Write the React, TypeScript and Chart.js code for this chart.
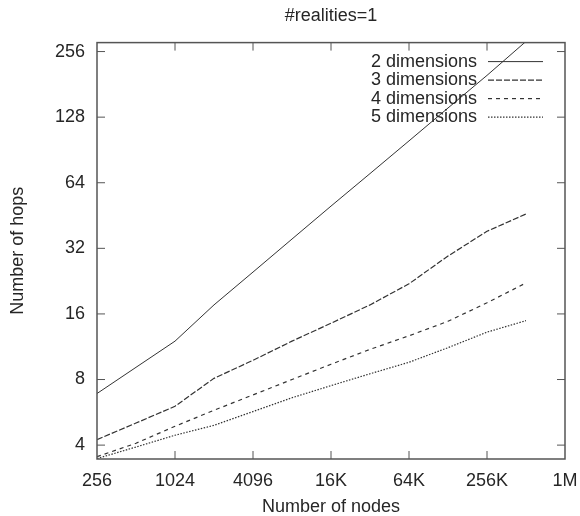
import React, { useEffect, useRef } from 'react';
import { Chart, registerables } from 'chart.js';

Chart.register(...registerables);

// ---- data ----
const nodes = [256, 512, 1024, 2048, 4096, 8192, 16384, 32768, 65536, 131072, 262144, 524288];
const hops2 = [6.9, 9.1, 12.0, 17.6, 24.9, 35.3, 50.0, 70.5, 99.6, 141, 199, 285];
const hops3 = [4.24, 5.05, 6.03, 8.1, 9.8, 12.0, 14.5, 17.6, 22.0, 29.5, 38.3, 46];
const hops4 = [3.54, 4.08, 4.88, 5.78, 6.8, 8.0, 9.4, 11.0, 12.7, 14.8, 18.0, 22.2];
const hops5 = [3.47, 3.92, 4.44, 4.93, 5.7, 6.6, 7.5, 8.5, 9.6, 11.2, 13.2, 14.9];
const seriesLabels = ['2 dimensions', '3 dimensions', '4 dimensions', '5 dimensions'];
const xTickValues = [256, 1024, 4096, 16384, 65536, 262144, 1048576];
const xTickLabels = ['256', '1024', '4096', '16K', '64K', '256K', '1M'];
const yTickValues = [4, 8, 16, 32, 64, 128, 256];
const yTickLabels = ['4', '8', '16', '32', '64', '128', '256'];
const chartTitle = '#realities=1';
const xTitle = 'Number of nodes';
const yTitle = 'Number of hops';

const TEXT = '#262626';
const LINE = '#333333';
const FONT = '"Liberation Sans", Arial, Helvetica, sans-serif';

const dashes: number[][] = [[], [6, 2], [4, 4], [1.5, 1.5]];
const seriesValues = [hops2, hops3, hops4, hops5];

const framePlugin = {
  id: 'gnuFrame',
  afterDatasetsDraw(chart: any) {
    const { ctx, chartArea: a, scales } = chart;
    ctx.save();
    ctx.strokeStyle = '#555';
    ctx.lineWidth = 1;
    const L = 8;
    const seg = (x1: number, y1: number, x2: number, y2: number) => {
      ctx.beginPath();
      ctx.moveTo(x1, y1);
      ctx.lineTo(x2, y2);
      ctx.stroke();
    };
    scales.x.ticks.forEach((t: any) => {
      const px = scales.x.getPixelForValue(t.value);
      if (px <= a.left + 1 || px >= a.right - 1) return;
      seg(px, a.bottom, px, a.bottom - L);
      seg(px, a.top, px, a.top + L);
    });
    scales.y.ticks.forEach((t: any) => {
      const py = scales.y.getPixelForValue(t.value);
      if (py <= a.top + 1 || py >= a.bottom - 1) return;
      seg(a.left, py, a.left + L, py);
      seg(a.right, py, a.right - L, py);
    });
    ctx.lineWidth = 1.5;
    ctx.strokeStyle = '#555';
    ctx.strokeRect(a.left, a.top, a.right - a.left, a.bottom - a.top);

    ctx.font = `18px ${FONT}`;
    ctx.textAlign = 'right';
    ctx.textBaseline = 'middle';
    chart.data.datasets.forEach((ds: any, i: number) => {
      const y = a.top + 19 + i * 18.5;
      ctx.fillStyle = TEXT;
      ctx.fillText(ds.label, a.right - 88, y);
      ctx.strokeStyle = ds.borderColor;
      ctx.lineWidth = ds.borderWidth;
      ctx.setLineDash(ds.borderDash || []);
      seg(a.right - 77, y, a.right - 22, y);
      ctx.setLineDash([]);
    });
    ctx.restore();
  },
};

export default function App() {
  const ref = useRef<HTMLCanvasElement | null>(null);

  useEffect(() => {
    if (!ref.current) return;
    const chart = new Chart(ref.current, {
      type: 'line',
      data: {
        datasets: seriesLabels.map((label, k) => ({
          label,
          data: nodes.map((x, i) => ({ x, y: seriesValues[k][i] })),
          borderColor: LINE,
          borderWidth: k === 0 ? 1 : 1.2,
          borderDash: dashes[k],
          pointRadius: 0,
          tension: 0,
          fill: false,
        })),
      },
      options: {
        animation: false,
        responsive: false,
        parsing: false as any,
        layout: { padding: { top: 0, left: 0, right: 0, bottom: 0 } },
        plugins: {
          legend: { display: false },
          tooltip: { enabled: false },
          title: {
            display: true,
            text: chartTitle,
            fullSize: false,
            color: TEXT,
            font: { size: 18, weight: 'normal', family: FONT },
            padding: { top: 5, bottom: 16 },
          },
        },
        scales: {
          x: {
            type: 'logarithmic',
            min: 256,
            max: 1048576,
            bounds: 'data',
            grid: { display: false, drawTicks: false },
            border: { display: false },
            afterBuildTicks: (s: any) => {
              s.ticks = xTickValues.map((v) => ({ value: v }));
            },
            afterFit: (s: any) => {
              s.height = 57;
              s.paddingLeft = 0;
              s.paddingRight = 15;
            },
            ticks: {
              autoSkip: false,
              maxRotation: 0,
              padding: 11,
              color: TEXT,
              font: { size: 18, family: FONT },
              callback: (v: any) => {
                const i = xTickValues.indexOf(Number(v));
                return i >= 0 ? xTickLabels[i] : '';
              },
            },
            title: {
              display: true,
              text: xTitle,
              color: TEXT,
              font: { size: 18, family: FONT },
              padding: { top: 0, bottom: -2 },
            },
          },
          y: {
            type: 'logarithmic',
            min: 3.454,
            max: 281.4,
            bounds: 'data',
            grid: { display: false, drawTicks: false },
            border: { display: false },
            afterBuildTicks: (s: any) => {
              s.ticks = yTickValues.map((v) => ({ value: v }));
            },
            afterFit: (s: any) => {
              s.width = 97;
              s.paddingTop = 0;
              s.paddingBottom = 0;
            },
            ticks: {
              autoSkip: false,
              padding: 12,
              color: TEXT,
              font: { size: 18, family: FONT },
              callback: (v: any) => {
                const i = yTickValues.indexOf(Number(v));
                return i >= 0 ? yTickLabels[i] : '';
              },
            },
            title: {
              display: true,
              text: yTitle,
              color: TEXT,
              font: { size: 18, family: FONT },
              padding: { top: 7, bottom: 0 },
            },
          },
        },
      } as any,
      plugins: [framePlugin],
    });
    return () => chart.destroy();
  }, []);

  return (
    <div style={{ position: 'fixed', left: 0, top: 0, width: 580, height: 516, background: '#fff' }}>
      <canvas ref={ref} width={580} height={516} />
    </div>
  );
}
